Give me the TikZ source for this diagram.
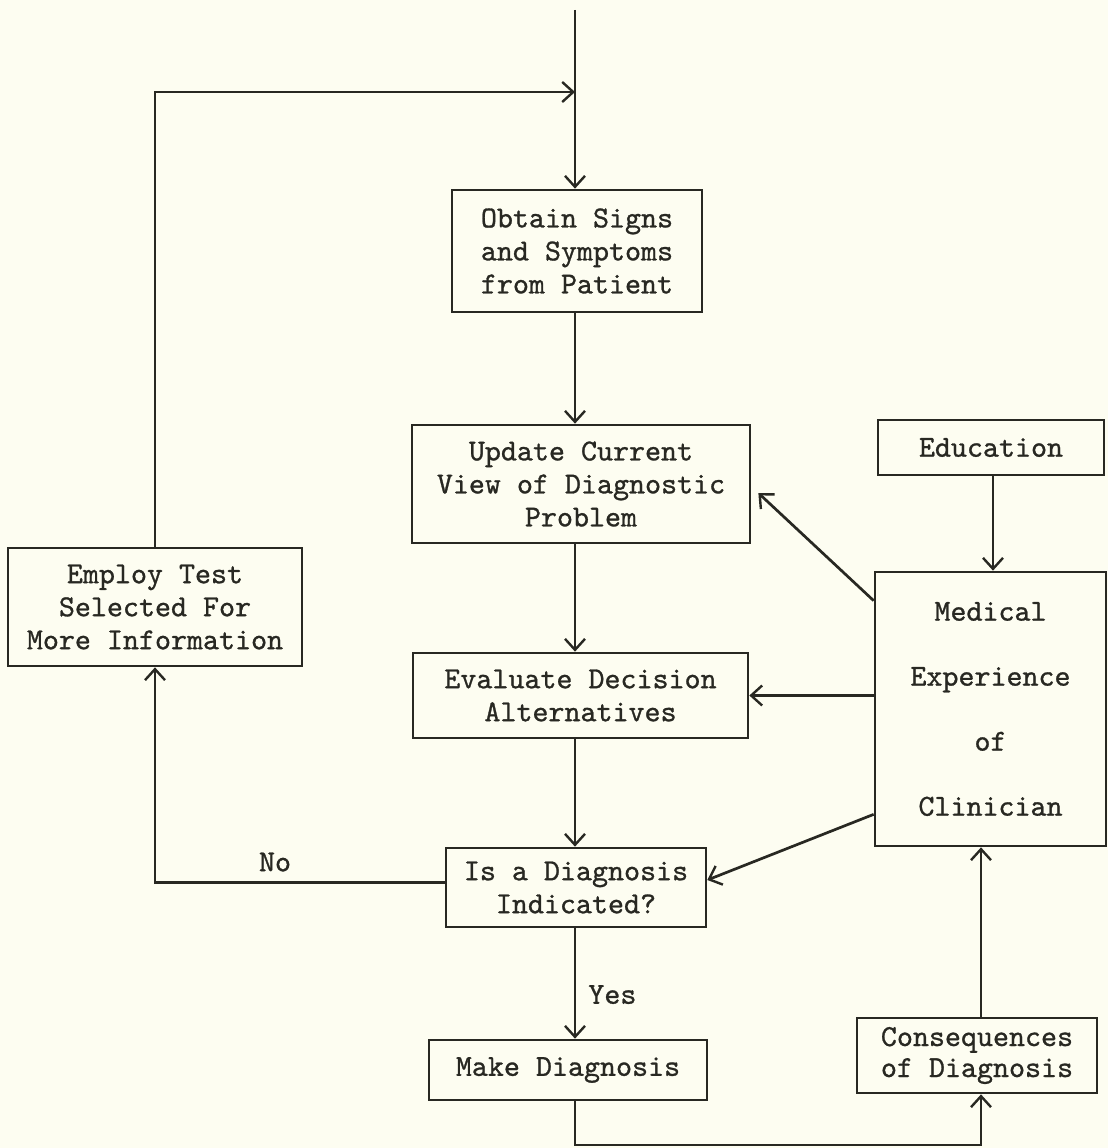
\documentclass[tikz,border=0pt]{standalone}
\usepackage{fontspec}
\usetikzlibrary{arrows.meta}
\newfontfamily\twfont{lmmono10-regular.otf}[FakeBold=0.9]
\definecolor{paper}{RGB}{253,253,241}
\definecolor{ink}{RGB}{40,40,34}
\begin{document}
\begin{tikzpicture}[x=1pt,y=-1pt,
  box/.style={draw=ink, line width=2.7pt, rectangle, inner sep=0pt, align=center,
    text=ink, font=\fontsize{30.5}{33}\selectfont\twfont},
  arr/.style={draw=ink, line width=2.7pt, -{Straight Barb[length=11pt,width=20pt,line width=2.4pt]}},
  lbl/.style={text=ink, inner sep=0pt, font=\fontsize{30.5}{33}\selectfont\twfont}]
\fill[paper] (0,0) rectangle (1108,1148);
\useasboundingbox (0,0) rectangle (1108,1148);

\node[box, minimum width=250pt, minimum height=122pt] (obtain) at (577,251)
  {Obtain Signs\\and Symptoms\\from Patient};
\node[box, minimum width=338pt, minimum height=118pt] (update) at (581,484)
  {Update Current\\View of Diagnostic\\Problem};
\node[box, minimum width=226pt, minimum height=55pt] (educ) at (991,447.5)
  {Education};
\node[box, minimum width=231pt, minimum height=274pt, align=none] (med) at (990.5,709)
  {\raisebox{-6pt}{\parbox{220pt}{\centering\fontsize{30.5}{65}\selectfont\twfont Medical\\Experience\\of\\Clinician}}};
\node[box, minimum width=294pt, minimum height=118pt] (employ) at (155,607)
  {Employ Test\\Selected For\\More Information};
\node[box, minimum width=335pt, minimum height=85pt] (eval) at (580.5,695.5)
  {Evaluate Decision\\Alternatives};
\node[box, minimum width=260pt, minimum height=79pt] (isdiag) at (576,887.5)
  {Is a Diagnosis\\Indicated?};
\node[box, minimum width=278pt, minimum height=60pt] (make) at (568,1070)
  {Make Diagnosis};
\node[box, minimum width=240pt, minimum height=75pt, font=\fontsize{30.5}{31}\selectfont\twfont] (conseq) at (977,1055.5)
  {Consequences\\of Diagnosis};

\coordinate (mx) at (575,0);
\coordinate (cx) at (981,0);
\coordinate (ex) at (993,0);
\coordinate (top) at (575,10);
\coordinate (loopend) at (575,92);
\coordinate (bot) at (981,1145);

% entry line and feedback loop
\draw[arr] (top) -- (obtain.north -| mx);
\draw[arr] (employ.north) |- (loopend);

% main chain
\draw[arr] (obtain.south -| mx) -- (update.north -| mx);
\draw[arr] (update.south -| mx) -- (eval.north -| mx);
\draw[arr] (eval.south -| mx) -- (isdiag.north -| mx);
\draw[arr] (isdiag.south -| mx) -- (make.north -| mx)
  node[lbl, pos=0.6, right=12pt] (yes) {Yes};
\draw[arr] ([yshift=5pt]isdiag.west) -| (employ.south);
\node[lbl] (no) at (275,862) {No};

% experience influences
\draw[arr] (educ.south -| ex) -- (med.north -| ex);
\draw[arr] ([yshift=-30pt]med.north west) -- ([xshift=7pt,yshift=-9pt]update.east);
\draw[arr] (eval.east -| med.west) -- (eval.east);
\draw[arr] ([yshift=33pt]med.south west) -- ([yshift=7.5pt]isdiag.east);

% consequences loop
\draw[arr] (make.south -| mx) |- (bot) -- (conseq.south -| cx);
\draw[arr] (conseq.north -| cx) -- (med.south -| cx);
\end{tikzpicture}
\end{document}
